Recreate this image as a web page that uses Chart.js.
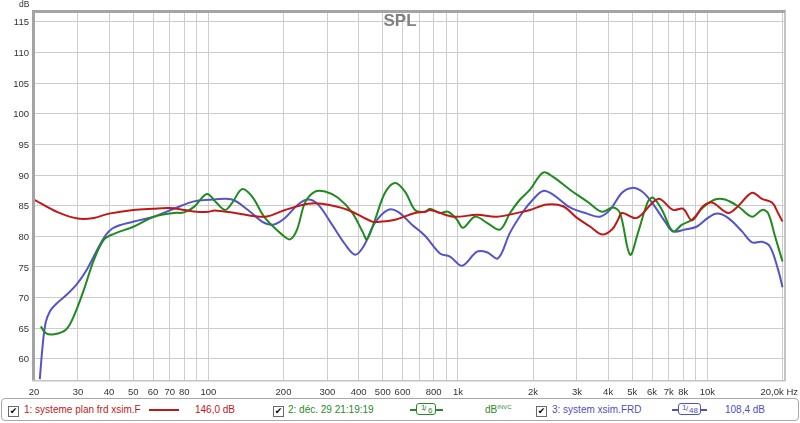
<!DOCTYPE html>
<html><head><meta charset="utf-8">
<script src="https://cdn.jsdelivr.net/npm/chart.js@4.4.1/dist/chart.umd.min.js"></script>
<style>
html,body{margin:0;padding:0;background:#fff;}
#wrap{position:relative;width:800px;height:423px;overflow:hidden;font-family:"Liberation Sans",Arial,sans-serif;}
#c{position:absolute;left:0;top:0;}
#legend{position:absolute;left:1px;top:398px;width:796px;height:21px;border:1px solid #a8a8a8;border-radius:4px;background:#fff;}
.it{position:absolute;top:5px;font-size:10px;line-height:11px;white-space:nowrap;}
.cb{position:absolute;top:7px;width:9px;height:9px;border:1px solid #6a6a6a;background:#fff;font-family:"DejaVu Sans",sans-serif;font-size:9px;line-height:9px;text-align:center;color:#000;}
.flt{position:absolute;top:4px;height:13px;}
.flt .ln{position:absolute;top:6px;height:1.5px;}
.flt .bx{position:absolute;top:0;height:10px;border-radius:3px;}
.flt .bx span{position:absolute;font-size:8px;line-height:8px;}
</style>
</head><body>
<div id="wrap">
<canvas id="c" width="800" height="423"></canvas>
<div id="legend">
  <div class="cb" style="left:6px">✔</div>
  <div class="it" style="left:22px;color:#c01818">1: systeme plan frd xsim.F</div>
  <div style="position:absolute;left:147px;top:10px;width:30px;height:2px;background:#c01818"></div>
  <div class="it" style="left:193px;color:#c01818">146,0 dB</div>
  <div class="cb" style="left:271px">✔</div>
  <div class="it" style="left:286px;color:#2a8a2a">2: déc. 29 21:19:19</div>
  <div class="flt" style="left:408px;width:33px">
    <div class="ln" style="left:0;width:7px;background:#2a8a2a"></div>
    <div class="bx" style="left:6px;width:18px;border:1.5px solid #2a8a2a;color:#2a8a2a">
      <span style="left:4px;top:0px">1</span><span style="left:7px;top:1px">/</span><span style="left:11px;top:3px">6</span>
    </div>
    <div class="ln" style="left:26px;width:7px;background:#2a8a2a"></div>
  </div>
  <div class="it" style="left:483px;color:#2a8a2a">dB<span style="font-size:6px;position:relative;top:-4px">INVC</span></div>
  <div class="cb" style="left:534px">✔</div>
  <div class="it" style="left:550px;color:#5050c0">3: system xsim.FRD</div>
  <div class="flt" style="left:670px;width:35px">
    <div class="ln" style="left:0;width:6px;background:#5050c0"></div>
    <div class="bx" style="left:6px;width:21px;border:1.5px solid #5050c0;color:#5050c0">
      <span style="left:3px;top:0px">1</span><span style="left:7px;top:1px">/</span><span style="left:10px;top:3px">48</span>
    </div>
    <div class="ln" style="left:29px;width:6px;background:#5050c0"></div>
  </div>
  <div class="it" style="left:723px;color:#5050c0">108,4 dB</div>
</div>
</div>
<script>
// ---- tick / grid definitions ----
const gridFreqs = [20,30,40,50,60,70,80,90,100,200,300,400,500,600,700,800,900,1000,2000,3000,4000,5000,6000,7000,8000,9000,10000,20000];
const xTickValues = [20,30,40,50,60,70,80,100,200,300,400,500,600,800,1000,2000,3000,4000,5000,6000,7000,8000,10000,20000];
const xTickLabels = ['20','30','40','50','60','70','80','100','200','300','400','500','600','800','1k','2k','3k','4k','5k','6k','7k','8k','10k','20,0k Hz'];
const yTicks = [60,65,70,75,80,85,90,95,100,105,110,115];

// ---- series 1: systeme plan frd xsim.F (red) ----
const freqRed = [20,25,30,34.8,40,50,60,70,80,90,100,106,128,169,203,251,285,363,453,497,560,673,740,774,956,1193,1435,1774,1945,2276,2638,3002,3384,3782,4146,4382,4546,5224,6340,7280,7986,8676,9604,10434,12094,13266,15096,16556,18156,19188,20000];
const dbRed   = [86.0,83.9,82.9,83.0,83.7,84.3,84.5,84.6,84.3,84.0,84.0,84.2,83.8,83.2,84.3,85.3,85.3,84.3,82.4,82.4,82.7,83.8,84.0,84.3,83.2,83.5,83.2,83.9,84.3,85.2,84.9,83.0,81.6,80.3,81.1,82.7,83.8,83.0,86.1,84.3,84.5,82.6,84.9,85.5,83.8,84.9,87.1,86.1,85.5,83.8,82.4];

// ---- series 2: déc. 29 21:19:19 (green) ----
const freqGreen = [21.3,22.3,24.1,26.9,28.9,31.7,34.8,38.2,41.8,50.3,60.5,72.8,79.9,87.6,98.7,107,116.6,124.3,136.4,149.5,168.6,197,212.4,226.6,244,267.4,293.4,330.8,376.4,416.6,432.2,465.3,510.4,559.8,613.8,673,738,773,848,912.6,991.8,1048,1171,1308,1475,1618,1774,1945,2194,2406,2814,3292,3782,4184,4464,4897,5272,5781,6054,6578,7280,7912,8676,9604,10728,11764,13266,15096,16556,17498,18666,20000];
const dbGreen   = [65.3,64.2,64.0,64.8,67.0,71.3,76.2,79.5,80.4,81.6,83.2,83.8,83.9,84.8,86.9,85.6,84.3,85.4,87.7,86.5,83.0,80.3,79.5,81.1,85.5,87.3,87.3,86.3,83.9,80.6,79.5,82.7,87.1,88.7,87.3,84.3,84.0,84.5,83.8,84.0,82.7,81.4,83.2,82.2,81.1,83.8,86.0,87.6,90.4,89.7,87.6,85.7,84.0,84.7,83.8,77.0,80.6,85.7,86.3,84.3,80.8,81.9,82.7,84.7,86.0,86.0,84.9,83.2,84.3,83.8,80.0,75.9];

// ---- series 3: system xsim.FRD (blue) ----
const freqBlue = [21.1,21.7,22.3,23.2,24.3,27.1,29.7,32.6,38.2,41.8,50.3,60.5,72.8,87.6,105.3,124.3,144.1,164,181.5,202.8,228.7,250.8,275,313,352.9,387,416.6,465.3,524.7,575.4,654.6,738,848,929.6,1038.6,1193,1308,1448,1618,1824,2000,2194,2406,2814,3292,3711,4070,4546,4988,5470,5998,6762,7280,8134,9086,10056,10928,12094,13766,15096,16556,17824,19188,20000];
const dbBlue   = [56.7,62.5,66.0,67.8,68.8,70.5,72.2,74.6,79.8,81.4,82.4,83.2,84.5,85.7,86.0,86.0,84.3,82.4,81.9,83.0,85.2,86.0,85.2,81.9,78.7,77.0,78.2,82.2,84.3,84.0,81.9,80.1,77.2,76.7,75.2,77.5,77.4,76.4,80.6,84.0,86.0,87.4,86.8,84.7,83.7,83.2,84.3,87.1,87.9,87.3,85.5,82.4,80.8,81.1,81.6,83.0,83.7,83.0,80.8,79.0,79.1,78.3,74.6,71.7];

const pts = (fs, ds) => fs.map((f, i) => ({x: f, y: ds[i]}));
const FONT = '"Liberation Sans", Arial, sans-serif';

const decor = {
  id: 'decor',
  afterDraw(chart) {
    const ctx = chart.ctx, a = chart.chartArea, xs = chart.scales.x, ys = chart.scales.y;
    ctx.save();
    // frame
    ctx.fillStyle = '#c4c4c4';
    ctx.fillRect(a.right - 1, a.top - 2, 2, a.bottom - a.top + 3);
    ctx.fillRect(a.left - 2, a.bottom, a.right - a.left + 3, 1.5);
    ctx.fillStyle = '#a4a4a4';
    ctx.fillRect(a.left - 2, a.top - 2, 3, a.bottom - a.top + 2);
    ctx.fillRect(a.left - 2, a.top - 2, a.right - a.left + 2, 3);
    // y tick labels
    ctx.fillStyle = '#333';
    ctx.font = '9.5px ' + FONT;
    ctx.textAlign = 'right';
    ctx.textBaseline = 'middle';
    yTicks.forEach(v => ctx.fillText(String(v), 29, ys.getPixelForValue(v) + 1));
    // x tick labels
    xTickValues.forEach((v, i) => {
      const px = xs.getPixelForValue(v);
      if (i === xTickValues.length - 1) { ctx.textAlign = 'right'; ctx.fillText(xTickLabels[i], 798, 392); }
      else { ctx.textAlign = 'center'; ctx.fillText(xTickLabels[i], px, 392); }
    });
    // unit label
    ctx.font = '8.5px ' + FONT;
    ctx.textAlign = 'left';
    ctx.fillText('dB', 19, 5);
    // title
    ctx.font = 'bold 17px ' + FONT;
    ctx.fillStyle = '#808080';
    ctx.textAlign = 'center';
    ctx.fillText('SPL', 400, 21);
    ctx.restore();
  }
};

new Chart(document.getElementById('c'), {
  type: 'scatter',
  data: {
    datasets: [
      {label: '1: systeme plan frd xsim.F', data: pts(freqRed, dbRed), borderColor: '#c01818'},
      {label: '2: déc. 29 21:19:19', data: pts(freqGreen, dbGreen), borderColor: '#1f8a1f'},
      {label: '3: system xsim.FRD', data: pts(freqBlue, dbBlue), borderColor: '#5454c8'}
    ].map(d => Object.assign(d, {showLine: true, borderWidth: 2, pointRadius: 0, pointHoverRadius: 0, tension: 0.35, fill: false}))
  },
  options: {
    responsive: false,
    animation: false,
    devicePixelRatio: 1,
    layout: {padding: {left: 34, top: 12, right: 15, bottom: 43}},
    plugins: {legend: {display: false}, tooltip: {enabled: false}, title: {display: false}},
    scales: {
      x: {
        type: 'logarithmic', min: 20, max: 20466,
        afterBuildTicks: s => { s.ticks = gridFreqs.map(v => ({value: v})); },
        afterFit: s => { s.height = 0; },
        ticks: {display: false},
        grid: {color: '#cdcdcd', lineWidth: 1, drawTicks: false},
        border: {display: false}
      },
      y: {
        type: 'linear', min: 56.55, max: 116.6,
        afterBuildTicks: s => { s.ticks = yTicks.map(v => ({value: v})); },
        afterFit: s => { s.width = 0; },
        ticks: {display: false},
        grid: {color: '#cdcdcd', lineWidth: 1, drawTicks: false},
        border: {display: false}
      }
    }
  },
  plugins: [decor]
});
</script>
</body></html>
